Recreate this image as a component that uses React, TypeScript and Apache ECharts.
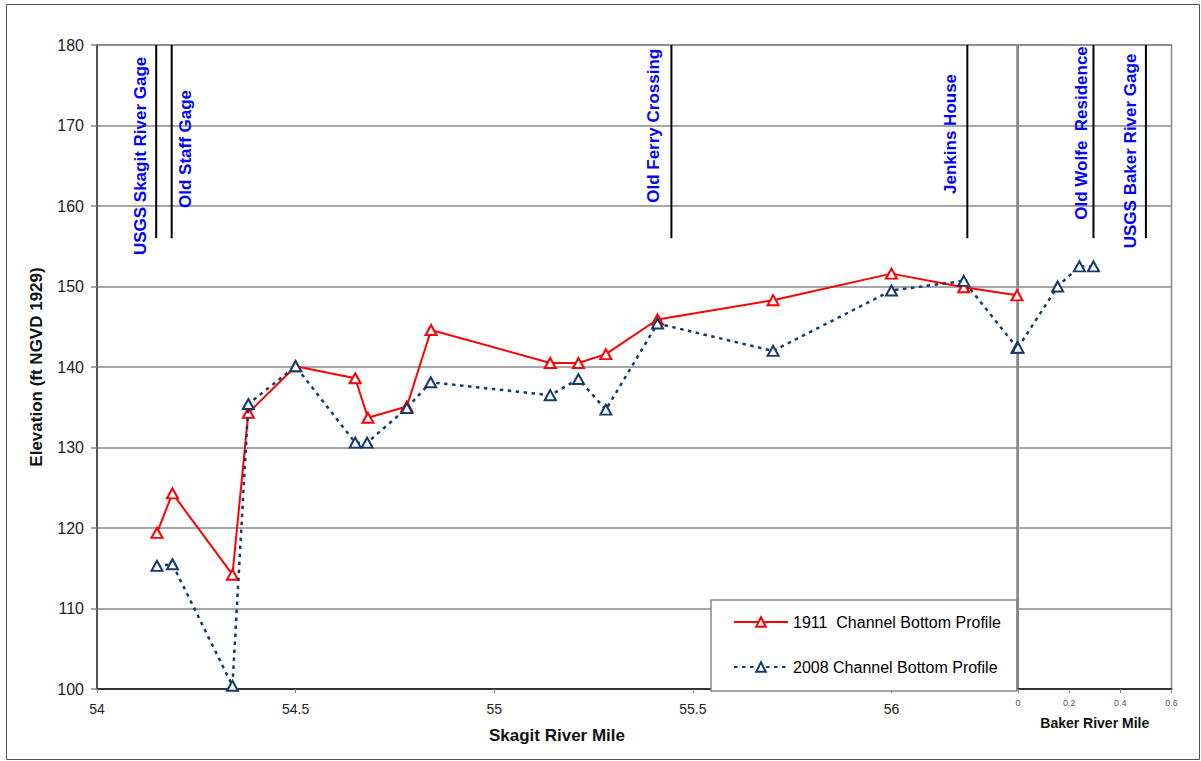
import React, { useEffect, useRef } from "react";
import * as echarts from "echarts";

// ---- Data ----
const skagitMile1911 = [54.151, 54.19, 54.341, 54.381, 54.5, 54.65, 54.682, 54.78, 54.841, 55.141, 55.212, 55.281, 55.411, 55.702, 56.0, 56.182, 56.316];
const elev1911 = [119.4, 124.3, 114.2, 134.3, 140.1, 138.6, 133.7, 135.1, 144.6, 140.5, 140.5, 141.6, 145.9, 148.3, 151.6, 149.9, 148.9];

const skagitMile2008 = [54.151, 54.19, 54.341, 54.381, 54.5, 54.65, 54.68, 54.78, 54.84, 55.141, 55.212, 55.281, 55.411, 55.702, 56.0, 56.182, 56.316];
const elev2008 = [115.3, 115.5, 100.4, 135.4, 140.1, 130.6, 130.6, 134.9, 138.1, 136.5, 138.5, 134.7, 145.4, 142.0, 149.5, 150.7, 142.4];

const bakerMile2008 = [0, 0.155, 0.24, 0.295];
const bakerElev2008 = [142.4, 150.0, 152.5, 152.5];

const skagitLandmarks = ["USGS Skagit River Gage", "Old Staff Gage", "Old Ferry Crossing", "Jenkins House"];
const skagitLandmarkMile = [54.149, 54.188, 55.446, 56.191];
const bakerLandmarks = ["Old Wolfe  Residence", "USGS Baker River Gage"];
const bakerLandmarkMile = [0.295, 0.5];

const yTicks = [100, 110, 120, 130, 140, 150, 160, 170, 180];

const name1911 = "1911  Channel Bottom Profile";
const name2008 = "2008 Channel Bottom Profile";

// ---- Layout (not data) ----
const landmarkLineBottom = 156;
const skagitLabelStart = [153.9, 159.75, 160.4, 161.5];
const skagitLabelDx = [-16, 14, -18, -16.5];
const bakerLabelStart = [158.3, 154.75];
const bakerLabelDx = [-11.6, -15.3];

const FONT = '"Liberation Sans", Arial, Helvetica, sans-serif';
const RED = "#ff0000";
const NAVY = "#153a6b";

function landmarkRender(names: string[], starts: number[], dxs: number[], yMax: number) {
  return (params: any, api: any) => {
    const i = params.dataIndex;
    const x = api.value(0);
    const top = api.coord([x, yMax]);
    const bot = api.coord([x, api.value(1)]);
    const lab = api.coord([x, starts[i]]);
    return {
      type: "group",
      children: [
        {
          type: "line",
          shape: { x1: top[0], y1: top[1], x2: bot[0], y2: bot[1] },
          style: { stroke: "#000", lineWidth: 2 },
        },
        {
          type: "text",
          x: top[0] + dxs[i],
          y: lab[1],
          rotation: Math.PI / 2,
          style: {
            text: names[i],
            fill: "#0000ff",
            font: `bold 17px ${FONT}`,
            align: "left",
            verticalAlign: "middle",
          },
        },
      ],
    };
  };
}

export default function App() {
  const ref = useRef<HTMLDivElement>(null);
  useEffect(() => {
    if (!ref.current) return;
    const chart = echarts.init(ref.current, null, { renderer: "svg" });
    const yMin = yTicks[0];
    const yMax = yTicks[yTicks.length - 1];
    const yInterval = yTicks[1] - yTicks[0];

    const option: any = {
      animation: false,
      backgroundColor: "#fff",
      textStyle: { fontFamily: FONT },
      graphic: [
        {
          type: "rect",
          left: 4,
          top: 2,
          shape: { width: 1193, height: 755 },
          style: { fill: "none", stroke: "#555", lineWidth: 1 },
          silent: true,
        },
      ],
      grid: [
        { left: 97, top: 45, width: 920, height: 644, show: true, borderColor: "#888", borderWidth: 1.5, backgroundColor: "transparent" },
        { left: 1018, top: 45, width: 153.5, height: 644, show: true, borderColor: "#888", borderWidth: 1.5, backgroundColor: "transparent" },
      ],
      xAxis: [
        {
          type: "value",
          gridIndex: 0,
          min: 54,
          max: 56.316,
          interval: 0.5,
          splitLine: { show: false },
          axisLine: { show: true, onZero: false, lineStyle: { color: "#333", width: 2 } },
          axisTick: { show: true, length: 4, lineStyle: { color: "#888" } },
          axisLabel: {
            color: "#222",
            fontSize: 14,
            margin: 13,
            showMaxLabel: false,
            formatter: (v: number) => (Math.abs(v * 2 - Math.round(v * 2)) < 1e-6 ? String(v) : ""),
          },
          name: "Skagit River Mile",
          nameLocation: "middle",
          nameGap: 38,
          nameTextStyle: { fontSize: 17, fontWeight: "bold", color: "#111" },
        },
        {
          type: "value",
          gridIndex: 1,
          min: 0,
          max: 0.6,
          interval: 0.2,
          splitLine: { show: false },
          axisLine: { show: true, onZero: false, lineStyle: { color: "#333", width: 2 } },
          axisTick: { show: true, length: 4, lineStyle: { color: "#888" } },
          axisLabel: { color: "#555", fontSize: 9, margin: 9 },
          name: "Baker River Mile",
          nameLocation: "middle",
          nameGap: 27,
          nameTextStyle: { fontSize: 14, fontWeight: "bold", color: "#111" },
        },
      ],
      yAxis: [
        {
          type: "value",
          gridIndex: 0,
          min: yMin,
          max: yMax,
          interval: yInterval,
          splitLine: { show: true, lineStyle: { color: "#888", width: 1.5 } },
          axisLine: { show: true, onZero: false, lineStyle: { color: "#555", width: 2 } },
          axisTick: { show: true, length: 6, lineStyle: { color: "#888", width: 1.5 } },
          axisLabel: { color: "#222", fontSize: 16, margin: 13 },
          name: "Elevation (ft NGVD 1929)",
          nameLocation: "middle",
          nameGap: 52,
          nameTextStyle: { fontSize: 17, fontWeight: "bold", color: "#111" },
        },
        {
          type: "value",
          gridIndex: 1,
          min: yMin,
          max: yMax,
          interval: yInterval,
          splitLine: { show: true, lineStyle: { color: "#888", width: 1.5 } },
          axisLine: { show: true, onZero: false, lineStyle: { color: "#888", width: 2 } },
          axisTick: { show: false },
          axisLabel: { show: false },
        },
      ],
      legend: {
        data: [name1911, name2008],
        orient: "vertical",
        left: 711,
        top: 600,
        itemWidth: 54,
        itemHeight: 12,
        itemGap: 29,
        padding: [14, 16, 16, 22],
        backgroundColor: "#fff",
        borderColor: "#888",
        borderWidth: 1.5,
        textStyle: { fontSize: 16, color: "#000", fontFamily: FONT },
        z: 10,
      },
      series: [
        {
          name: name1911,
          type: "line",
          xAxisIndex: 0,
          yAxisIndex: 0,
          data: skagitMile1911.map((m, i) => [m, elev1911[i]]),
          symbol: "emptyTriangle",
          symbolSize: [11, 10],
          lineStyle: { color: RED, width: 2 },
          itemStyle: { color: RED, borderColor: RED, borderWidth: 2 },
          z: 3,
        },
        {
          name: name2008,
          type: "line",
          xAxisIndex: 0,
          yAxisIndex: 0,
          data: skagitMile2008.map((m, i) => [m, elev2008[i]]),
          symbol: "emptyTriangle",
          symbolSize: [11, 10],
          lineStyle: { color: NAVY, width: 2.5, type: [3.5, 4.5] },
          itemStyle: { color: NAVY, borderColor: NAVY, borderWidth: 2 },
          z: 4,
        },
        {
          name: name2008,
          type: "line",
          xAxisIndex: 1,
          yAxisIndex: 1,
          data: bakerMile2008.map((m, i) => [m, bakerElev2008[i]]),
          symbol: "emptyTriangle",
          symbolSize: [11, 10],
          lineStyle: { color: NAVY, width: 2.5, type: [3.5, 4.5] },
          itemStyle: { color: NAVY, borderColor: NAVY, borderWidth: 2 },
          z: 4,
        },
        {
          type: "custom",
          xAxisIndex: 0,
          yAxisIndex: 0,
          data: skagitLandmarkMile.map((m) => [m, landmarkLineBottom]),
          encode: { x: 0, y: 1 },
          renderItem: landmarkRender(skagitLandmarks, skagitLabelStart, skagitLabelDx, yMax),
          silent: true,
          z: 5,
        },
        {
          type: "custom",
          xAxisIndex: 1,
          yAxisIndex: 1,
          data: bakerLandmarkMile.map((m) => [m, landmarkLineBottom]),
          encode: { x: 0, y: 1 },
          renderItem: landmarkRender(bakerLandmarks, bakerLabelStart, bakerLabelDx, yMax),
          silent: true,
          z: 5,
        },
      ],
    };
    chart.setOption(option);
    return () => chart.dispose();
  }, []);
  return (
    <div
      ref={ref}
      style={{ position: "fixed", left: 0, top: 0, width: 1201, height: 761, background: "#fff" }}
    />
  );
}
